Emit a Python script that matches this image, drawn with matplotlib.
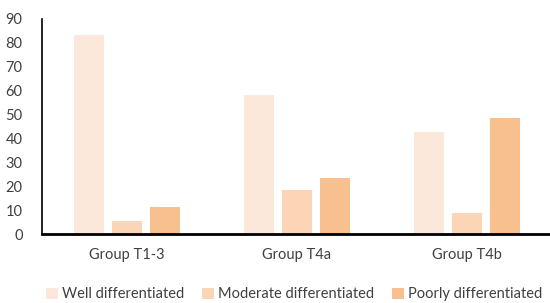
import matplotlib
matplotlib.use("Agg")
import matplotlib.pyplot as plt
import numpy as np

categories = ["Group T1-3", "Group T4a", "Group T4b"]
series_names = ["Well differentiated", "Moderate differentiated", "Poorly differentiated"]
well = [83.3, 58.2, 42.8]
moderate = [5.4, 18.4, 8.7]
poorly = [11.3, 23.3, 48.5]
colors = ["#FCE8DA", "#FBD5B5", "#F9C08F"]

plt.rcParams['font.family'] = ['Lato', 'DejaVu Sans']

fig = plt.figure(figsize=(5.5, 3.03), dpi=100)
ax = fig.add_axes([42/550, 1-234/303, 1-42/550, (234-19)/303])

x = np.arange(len(categories))
w = 30/170
step = 38/170
for i, (vals, name) in enumerate(zip([well, moderate, poorly], series_names)):
    ax.bar(x + (i-1)*step, vals, width=w, color=colors[i], label=name)

ax.set_xlim(-0.5, 2.49)
ax.set_ylim(0, 90)
ax.set_yticks(np.arange(0, 91, 10))
ax.set_xticks(x)
ax.set_xticklabels(categories)
ax.tick_params(axis='both', length=0, labelsize=10.5, labelcolor="#404040")
ax.tick_params(axis='x', pad=10)
ax.tick_params(axis='y', pad=14)
for s in ["top", "right"]:
    ax.spines[s].set_visible(False)
ax.spines["left"].set_color("black")
ax.spines["left"].set_linewidth(1.2)
ax.spines["bottom"].set_color("black")
ax.spines["bottom"].set_linewidth(2)

fig.legend(loc="lower center", bbox_to_anchor=(0.535, -0.038), ncol=3, frameon=False,
           fontsize=10.5, handlelength=0.8, handleheight=0.8, handletextpad=0.3,
           columnspacing=1.2, labelcolor="#404040")

fig.savefig("out.png", dpi=100)
